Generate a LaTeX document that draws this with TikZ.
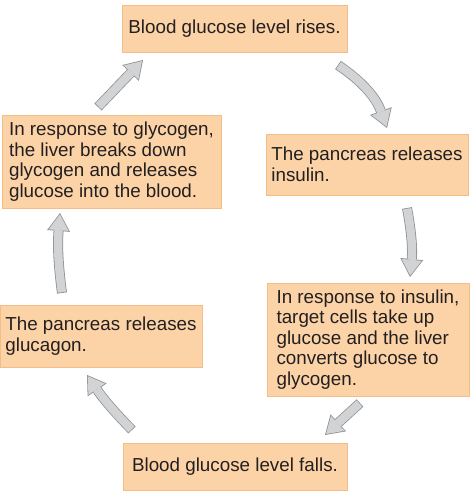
\documentclass[tikz,border=0pt]{standalone}
\usepackage{fontspec}
\setmainfont{Liberation Sans}
\usetikzlibrary{arrows.meta,positioning,calc}
\definecolor{boxfill}{HTML}{FCD3A6}
\definecolor{boxline}{HTML}{F4BC86}
\definecolor{arrowfill}{HTML}{D1D3D4}
\definecolor{arrowline}{HTML}{8F9194}
\definecolor{textdark}{HTML}{231F20}
\tikzset{
  infobox/.style={draw=boxline, fill=boxfill, line width=0.8pt, text=textdark,
    align=left, inner xsep=5pt, inner ysep=3pt,
    font=\fontsize{18.8}{20.6}\selectfont},
  arrowout/.style={draw=arrowline, line width=10pt,
    -{Triangle[length=18pt,width=23pt,line width=0pt]}},
  arrowin/.style={draw=arrowfill, line width=8.4pt, shorten <=0.8pt, shorten >=1.5pt,
    -{Triangle[length=15.7pt,width=20.1pt,line width=0pt]}}
}

\begin{document}
\begin{tikzpicture}[x=1pt,y=1pt]
    \useasboundingbox (0,0) rectangle (469,495);

    % The six stages of the cycle
    \node[infobox, minimum width=225pt, minimum height=47pt] (rise) at (234.5,466.5)
      {Blood glucose level rises.};
    \node[infobox, minimum width=202pt, minimum height=61pt] (insulin) at (367,330.5)
      {The pancreas releases\\insulin.};
    \node[infobox, minimum width=202pt, minimum height=113pt] (uptake) at (368,155.5)
      {In response to insulin,\\target cells take up\\glucose and the liver\\converts glucose to\\glycogen.};
    \node[infobox, minimum width=224pt, minimum height=47pt] (falls) at (235,28.5)
      {Blood glucose level falls.};
    \node[infobox, minimum width=202pt, minimum height=62pt] (glucagon) at (101,159)
      {The pancreas releases\\glucagon.};
    \node[infobox, minimum width=219pt, minimum height=93pt] (release) at (111.5,333.5)
      {In response to glycogen,\\the liver breaks down\\glycogen and releases\\glucose into the blood.};

    % Arrow ends between the boxes
    \coordinate (a1s) at (338,430);  \coordinate (a1t) at (387,367);
    \coordinate (a2s) at (407,287);  \coordinate (a2t) at (410,218);
    \coordinate (a3s) at (360,92);   \coordinate (a3t) at (325,60);
    \coordinate (a4s) at (132,65);   \coordinate (a4t) at (87,120);
    \coordinate (a5s) at (62,202);   \coordinate (a5t) at (60,282);
    \coordinate (a6s) at (98,388);   \coordinate (a6t) at (143,435);

    % Block arrows: outline first, then the light fill on top
    \foreach \s/\t/\b in {a1s/a1t/18, a2s/a2t/8, a3s/a3t/0, a4s/a4t/5, a5s/a5t/6, a6s/a6t/0} {
      \draw[arrowout] (\s) to[bend left=\b] (\t);
      \draw[arrowin] (\s) to[bend left=\b] (\t);
    }
  \end{tikzpicture}
\end{document}
